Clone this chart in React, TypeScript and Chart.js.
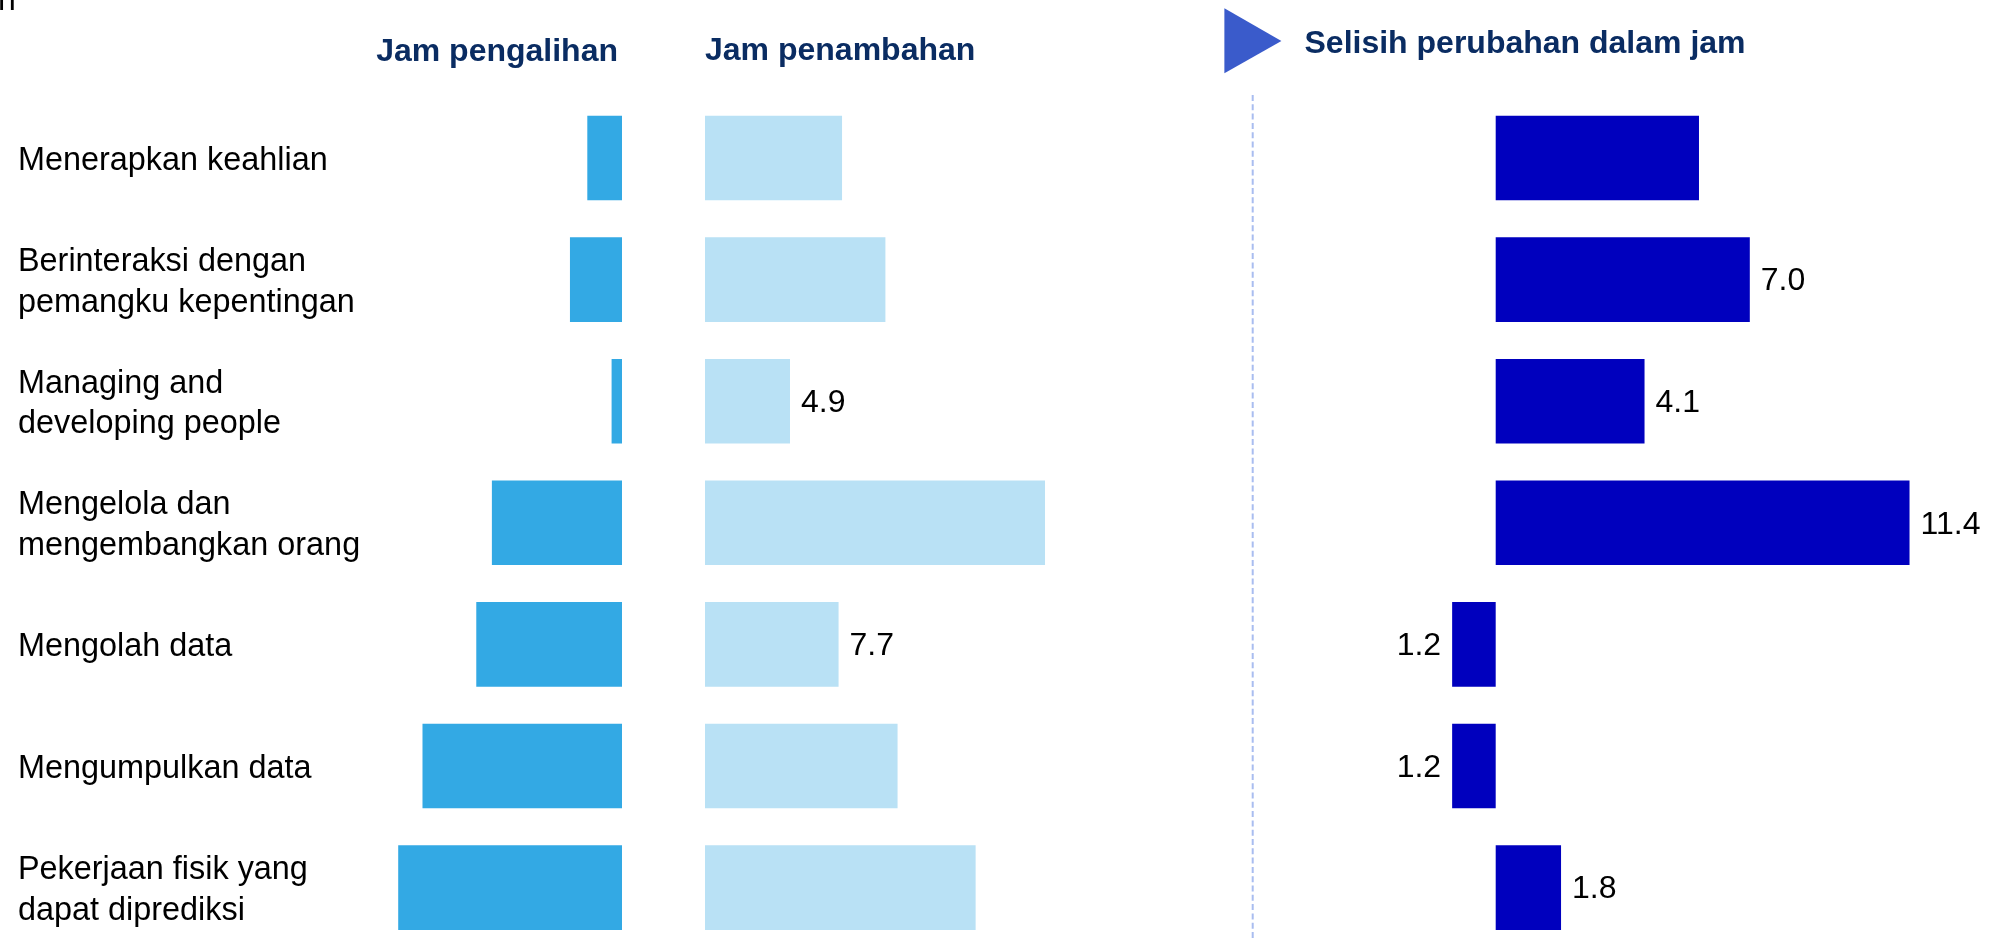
import React, { useEffect, useRef } from "react";
import { Chart, registerables } from "chart.js";

Chart.register(...registerables);

// ---------- data ----------
const categories: string[][] = [
  ["Menerapkan keahlian"],
  ["Berinteraksi dengan", "pemangku kepentingan"],
  ["Managing and", "developing people"],
  ["Mengelola dan", "mengembangkan orang"],
  ["Mengolah data"],
  ["Mengumpulkan data"],
  ["Pekerjaan fisik yang", "dapat diprediksi"],
];

const displacedHours = [2.0, 3.0, 0.6, 7.5, 8.4, 11.5, 12.9];
const addedHours = [7.9, 10.4, 4.9, 19.6, 7.7, 11.1, 15.6];
const netChangeHours = [5.6, 7.0, 4.1, 11.4, -1.2, -1.2, 1.8];

const addedValueLabels = [null, null, "4.9", null, "7.7", null, null];
const netValueLabels = [null, "7.0", "4.1", "11.4", "1.2", "1.2", "1.8"];

const titleDisplaced = "Jam pengalihan";
const titleAdded = "Jam penambahan";
const titleNet = "Selisih perubahan dalam jam";
const clippedTopText = "n";

// ---------- styling ----------
const FONT = "'Liberation Sans', Arial, Helvetica, sans-serif";
const CANVAS_H = 1000;
const AREA_TOP = 97.2;
const AREA_BOTTOM = 948.4;
const PAD_BOTTOM = CANVAS_H - AREA_BOTTOM;
const BAR_PCT = 0.696;

const COLOR_DISPLACED = "#33A9E4";
const COLOR_ADDED = "#B9E1F5";
const COLOR_NET = "#0000BE";
const COLOR_TITLE = "#0A2C62";
const COLOR_TRIANGLE = "#3A5BCB";
const COLOR_DASH = "#A9BDF0";

const valueLabelPlugin = {
  id: "valueLabels",
  afterDatasetsDraw(chart: any, _args: any, opts: any) {
    const labels = opts && opts.labels;
    if (!labels) return;
    const meta = chart.getDatasetMeta(0);
    const values = chart.data.datasets[0].data;
    const ctx = chart.ctx;
    ctx.save();
    ctx.font = `32px ${FONT}`;
    ctx.fillStyle = "#000";
    ctx.textBaseline = "middle";
    meta.data.forEach((el: any, i: number) => {
      const txt = labels[i];
      if (!txt) return;
      const { x, y } = el.getProps(["x", "y"], true);
      if (values[i] >= 0) {
        ctx.textAlign = "left";
        ctx.fillText(txt, x + 11, y + 2);
      } else {
        ctx.textAlign = "right";
        ctx.fillText(txt, x - 11, y + 2);
      }
    });
    ctx.restore();
  },
};

function baseOptions(padding: any, xScale: any, yScale: any, valueLabels: any) {
  return {
    indexAxis: "y",
    responsive: false,
    maintainAspectRatio: false,
    animation: false,
    events: [],
    layout: { padding },
    plugins: {
      legend: { display: false },
      tooltip: { enabled: false },
      title: { display: false },
      valueLabels: { labels: valueLabels },
    },
    scales: { x: xScale, y: yScale },
  };
}

const hiddenY = {
  display: false,
  grid: { display: false },
  border: { display: false },
};

function buildDisplaced() {
  return {
    type: "bar",
    data: {
      labels: categories,
      datasets: [
        {
          data: displacedHours,
          backgroundColor: COLOR_DISPLACED,
          borderWidth: 0,
          barPercentage: BAR_PCT,
          categoryPercentage: 1,
        },
      ],
    },
    options: baseOptions(
      { left: 18, right: 18, top: AREA_TOP, bottom: PAD_BOTTOM },
      { display: false, reverse: true, min: 0, max: 14.18 },
      {
        display: true,
        grid: { display: false, drawTicks: false },
        border: { display: false },
        ticks: {
          color: "#000",
          font: { family: FONT, size: 32.4, lineHeight: 1.25 },
          crossAlign: "far",
          padding: 0,
          labelOffset: 3,
          autoSkip: false,
        },
        afterFit: (s: any) => {
          s.width = 358;
          s.paddingTop = 0;
          s.paddingBottom = 0;
        },
      },
      null
    ),
    plugins: [
      valueLabelPlugin,
      {
        id: "decorDisplaced",
        afterDraw(chart: any) {
          const ctx = chart.ctx;
          ctx.save();
          ctx.font = `bold 32px ${FONT}`;
          ctx.fillStyle = COLOR_TITLE;
          ctx.textBaseline = "alphabetic";
          ctx.textAlign = "right";
          ctx.fillText(titleDisplaced, 618, 61);
          ctx.font = `32px ${FONT}`;
          ctx.fillStyle = "#000";
          ctx.textAlign = "left";
          ctx.fillText(clippedTopText, -2, 9.5);
          ctx.restore();
        },
      },
    ],
  };
}

function buildAdded() {
  return {
    type: "bar",
    data: {
      labels: categories,
      datasets: [
        {
          data: addedHours,
          backgroundColor: COLOR_ADDED,
          borderWidth: 0,
          barPercentage: BAR_PCT,
          categoryPercentage: 1,
        },
      ],
    },
    options: baseOptions(
      { left: 25, right: 0, top: AREA_TOP, bottom: PAD_BOTTOM },
      { display: false, min: 0, max: 30.84 },
      hiddenY,
      addedValueLabels
    ),
    plugins: [
      valueLabelPlugin,
      {
        id: "decorAdded",
        afterDraw(chart: any) {
          const ctx = chart.ctx;
          ctx.save();
          ctx.font = `bold 32px ${FONT}`;
          ctx.fillStyle = COLOR_TITLE;
          ctx.textBaseline = "alphabetic";
          ctx.textAlign = "left";
          ctx.fillText(titleAdded, 25, 60);
          ctx.restore();
        },
      },
    ],
  };
}

function buildNet() {
  return {
    type: "bar",
    data: {
      labels: categories,
      datasets: [
        {
          data: netChangeHours,
          backgroundColor: COLOR_NET,
          borderWidth: 0,
          barPercentage: BAR_PCT,
          categoryPercentage: 1,
        },
      ],
    },
    options: baseOptions(
      { left: 80, right: 0, top: AREA_TOP, bottom: PAD_BOTTOM },
      { display: false, min: -5.942, max: 13.837 },
      hiddenY,
      netValueLabels
    ),
    plugins: [
      valueLabelPlugin,
      {
        id: "decorNet",
        afterDraw(chart: any) {
          const ctx = chart.ctx;
          ctx.save();
          // dashed separator
          ctx.strokeStyle = COLOR_DASH;
          ctx.lineWidth = 2;
          ctx.setLineDash([6, 3.3]);
          ctx.beginPath();
          ctx.moveTo(52.7, 95);
          ctx.lineTo(52.7, CANVAS_H);
          ctx.stroke();
          ctx.setLineDash([]);
          // triangle marker
          ctx.fillStyle = COLOR_TRIANGLE;
          ctx.beginPath();
          ctx.moveTo(24.4, 8.3);
          ctx.lineTo(81.4, 41);
          ctx.lineTo(24.4, 73.3);
          ctx.closePath();
          ctx.fill();
          // title
          ctx.font = `bold 32px ${FONT}`;
          ctx.fillStyle = COLOR_TITLE;
          ctx.textBaseline = "alphabetic";
          ctx.textAlign = "left";
          ctx.fillText(titleNet, 104.5, 53);
          ctx.restore();
        },
      },
    ],
  };
}

function Panel({ left, width, build }: { left: number; width: number; build: () => any }) {
  const ref = useRef<HTMLCanvasElement>(null);
  useEffect(() => {
    if (!ref.current) return;
    const chart = new Chart(ref.current, build());
    return () => chart.destroy();
  }, []);
  return (
    <canvas
      ref={ref}
      width={width}
      height={CANVAS_H}
      style={{ position: "absolute", left, top: 0, width, height: CANVAS_H }}
    />
  );
}

export default function App() {
  return (
    <div
      style={{
        position: "fixed",
        left: 0,
        top: 0,
        width: 1998,
        height: 938,
        overflow: "hidden",
        background: "#fff",
      }}
    >
      <Panel left={0} width={640} build={buildDisplaced} />
      <Panel left={680} width={560} build={buildAdded} />
      <Panel left={1200} width={798} build={buildNet} />
    </div>
  );
}
